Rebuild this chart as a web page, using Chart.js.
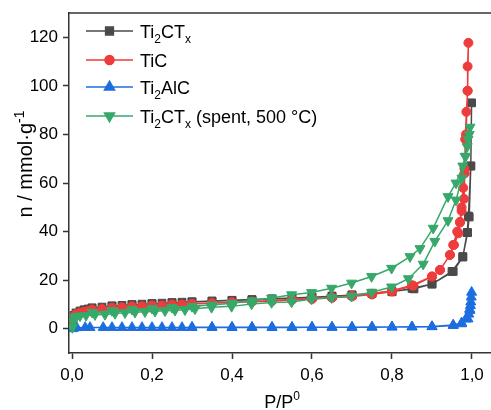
<!DOCTYPE html>
<html>
<head>
<meta charset="utf-8">
<script src="https://cdn.jsdelivr.net/npm/chart.js@4.4.0/dist/chart.umd.min.js"></script>
<style>
  html, body { margin: 0; padding: 0; background: #fff; }
</style>
</head>
<body>
<canvas id="iso" width="491" height="410"></canvas>
<script>
// N2 isotherms, adsorption branch then desorption branch for each sample
var xTicks = [0, 0.2, 0.4, 0.6, 0.8, 1.0]
var yTicks = [0, 20, 40, 60, 80, 100, 120]

var grayAdsP = [0.002, 0.005, 0.01, 0.02, 0.03, 0.04, 0.05, 0.075, 0.1, 0.125, 0.15, 0.175, 0.2, 0.225, 0.25, 0.275, 0.3, 0.35, 0.4, 0.45, 0.5, 0.55, 0.6, 0.65, 0.7, 0.75, 0.8, 0.855, 0.9, 0.95, 0.977, 0.989, 0.993, 0.997, 0.999]
var grayAdsN = [4.0, 5.5, 6.5, 7.3, 7.8, 8.1, 8.4, 8.9, 9.3, 9.6, 9.9, 10.1, 10.3, 10.5, 10.7, 10.9, 11.1, 11.4, 11.7, 12.0, 12.3, 12.6, 13.0, 13.4, 13.9, 14.6, 15.3, 16.4, 18.4, 23.6, 29.7, 39.6, 46, 67, 93]
var grayDesP = [0.997, 0.991, 0.988, 0.977, 0.953, 0.9, 0.85, 0.8, 0.75, 0.7, 0.65, 0.6, 0.55, 0.5, 0.45, 0.4, 0.35, 0.3, 0.25, 0.2, 0.15, 0.1, 0.05]
var grayDesN = [67, 46.4, 39.6, 29.5, 23.6, 18.4, 16.6, 15.2, 14.5, 13.9, 13.4, 12.9, 12.5, 12.2, 11.9, 11.6, 11.3, 11.0, 10.7, 10.3, 9.9, 9.4, 8.6]

var redAdsP = [0.002, 0.005, 0.01, 0.02, 0.03, 0.04, 0.05, 0.075, 0.1, 0.125, 0.15, 0.175, 0.2, 0.225, 0.25, 0.275, 0.3, 0.35, 0.4, 0.45, 0.5, 0.55, 0.6, 0.65, 0.7, 0.75, 0.8, 0.853, 0.9, 0.92, 0.945, 0.955, 0.966, 0.97, 0.974, 0.98, 0.982, 0.983, 0.986, 0.989, 0.989, 0.991]
var redAdsN = [3.5, 5.0, 6.0, 6.6, 7.0, 7.3, 7.6, 8.1, 8.5, 8.8, 9.0, 9.2, 9.4, 9.6, 9.8, 10.0, 10.2, 10.5, 10.8, 11.1, 11.4, 11.8, 12.2, 12.7, 13.3, 14.1, 15.3, 17.7, 21.5, 24.2, 30.4, 34.5, 39.3, 43.7, 48.5, 53.5, 64, 78, 89.3, 98, 108, 117.7]
var redDesP = [0.989, 0.985, 0.981, 0.978, 0.974, 0.97, 0.963, 0.953, 0.945, 0.92, 0.9, 0.85, 0.8, 0.75, 0.7, 0.65, 0.6, 0.55, 0.5, 0.45, 0.4, 0.35, 0.3, 0.25, 0.2, 0.15, 0.1, 0.05]
var redDesN = [98, 80, 66, 58, 50, 44, 40, 34.5, 30.4, 24.2, 21.5, 17.9, 15.6, 14.4, 13.6, 13.0, 12.5, 12.0, 11.6, 11.2, 10.9, 10.6, 10.3, 10.0, 9.6, 9.2, 8.7, 7.9]

var blueAdsP = [0.001, 0.005, 0.012, 0.033, 0.045, 0.078, 0.1, 0.125, 0.15, 0.175, 0.2, 0.225, 0.25, 0.275, 0.3, 0.35, 0.4, 0.45, 0.5, 0.55, 0.6, 0.65, 0.7, 0.75, 0.8, 0.85, 0.9, 0.953, 0.974, 0.99, 0.995, 0.999]
var blueAdsN = [0.0, 0.3, 0.4, 0.5, 0.5, 0.5, 0.5, 0.5, 0.5, 0.5, 0.5, 0.5, 0.5, 0.5, 0.5, 0.5, 0.5, 0.5, 0.5, 0.5, 0.6, 0.6, 0.6, 0.6, 0.7, 0.7, 0.8, 1.3, 2.0, 4.0, 7.5, 15.0]
var blueDesP = [0.998, 0.997, 0.996, 0.994, 0.992, 0.985, 0.974, 0.953, 0.9, 0.85, 0.8, 0.75, 0.7, 0.65, 0.6, 0.55, 0.5, 0.45, 0.4, 0.35, 0.3]
var blueDesN = [13, 11, 9.5, 8, 6, 4, 2.4, 1.5, 0.9, 0.8, 0.7, 0.7, 0.6, 0.6, 0.6, 0.6, 0.6, 0.6, 0.6, 0.6, 0.6]

var greenAdsP = [0.001, 0.003, 0.006, 0.01, 0.02, 0.035, 0.0575, 0.0825, 0.1075, 0.1325, 0.1575, 0.1825, 0.2075, 0.2325, 0.2575, 0.2825, 0.3075, 0.349, 0.399, 0.449, 0.499, 0.549, 0.599, 0.649, 0.699, 0.749, 0.799, 0.841, 0.878, 0.907, 0.94, 0.96, 0.975, 0.984, 0.99, 0.995]
var greenAdsN = [0.5, 3.0, 4.5, 5.0, 5.3, 5.5, 5.8, 5.9, 6.3, 6.6, 6.8, 7.0, 7.2, 7.4, 7.6, 7.8, 8.2, 8.8, 9.2, 10.2, 10.8, 11.0, 12.2, 12.8, 13.4, 15.0, 17.2, 20.6, 26.6, 36.0, 44.5, 53.0, 62.0, 71.0, 78.0, 83.0]
var greenDesP = [0.993, 0.988, 0.983, 0.977, 0.96, 0.94, 0.903, 0.87, 0.845, 0.799, 0.749, 0.699, 0.649, 0.599, 0.549, 0.499, 0.45, 0.4, 0.35, 0.3, 0.25, 0.2, 0.15, 0.1, 0.05]
var greenDesN = [80, 75, 71, 67, 60, 54.4, 41.4, 33, 29.7, 24.9, 21.5, 18.8, 16.7, 14.9, 14.0, 12.6, 11.5, 10.5, 9.8, 9.2, 8.8, 8.4, 8.0, 7.5, 6.8]

function pts(p, n) {
  return p.map((x, i) => ({x: x, y: n[i]}))
}

var series = [
  {label: [['Ti', 0], ['2', 1], ['CT', 0], ['x', 1]], color: '#4a4a4a', style: 'rect', rot: 0, r: 5.5, order: 4,
   data: pts(grayAdsP.concat(grayDesP), grayAdsN.concat(grayDesN))},
  {label: [['TiC', 0]], color: '#ee3b3b', style: 'circle', rot: 0, r: 4.5, order: 3,
   data: pts(redAdsP.concat(redDesP), redAdsN.concat(redDesN))},
  {label: [['Ti', 0], ['2', 1], ['AlC', 0]], color: '#1c6ee0', style: 'triangle', rot: 0, r: 5.8, order: 2,
   data: pts(blueAdsP.concat(blueDesP), blueAdsN.concat(blueDesN))},
  {label: [['Ti', 0], ['2', 1], ['CT', 0], ['x', 1], [' (spent, 500 °C)', 0]], color: '#36a86a', style: 'triangle', rot: 180, r: 5.8, order: 1,
   data: pts(greenAdsP.concat(greenDesP), greenAdsN.concat(greenDesN))}
]

var FONT = '"Liberation Sans", Arial, sans-serif'

function richText(ctx, parts, x, y, size, align) {
  // parts: [text, 0 normal | 1 subscript | 2 superscript]
  var w = 0
  parts.forEach(p => {
    ctx.font = (p[1] ? Math.round(size * 0.68) : size) + 'px ' + FONT
    w += ctx.measureText(p[0]).width
  })
  var cx = align === 'center' ? x - w / 2 : x
  parts.forEach(p => {
    ctx.font = (p[1] ? Math.round(size * 0.68) : size) + 'px ' + FONT
    var dy = p[1] === 1 ? size * 0.3 : (p[1] === 2 ? -size * 0.42 : 0)
    ctx.fillText(p[0], cx, y + dy)
    cx += ctx.measureText(p[0]).width
  })
}

var decor = {
  id: 'decor',
  afterDraw(chart) {
    var ctx = chart.ctx
    var a = chart.chartArea
    ctx.save()
    // frame top
    ctx.strokeStyle = '#333'
    ctx.lineWidth = 1.5
    ctx.beginPath()
    ctx.moveTo(a.left, a.top)
    ctx.lineTo(a.right, a.top)
    ctx.stroke()

    // legend
    var rows = [31, 60, 87, 116]
    series.forEach((s, i) => {
      var y = rows[i]
      ctx.strokeStyle = s.color
      ctx.fillStyle = s.color
      ctx.lineWidth = 1.5
      ctx.beginPath()
      ctx.moveTo(86, y)
      ctx.lineTo(133, y)
      ctx.stroke()
      Chart.helpers.drawPoint(ctx, {pointStyle: s.style, rotation: s.rot, radius: s.r, borderWidth: 1}, 109.5, y)
      ctx.fillStyle = '#000'
      ctx.textBaseline = 'alphabetic'
      richText(ctx, s.label, 140, y + 6.5, 18, 'left')
    })

    // axis titles
    ctx.fillStyle = '#000'
    richText(ctx, [['P/P', 0], ['0', 2]], 282, 408, 18, 'center')
    ctx.translate(32, 164)
    ctx.rotate(-Math.PI / 2)
    richText(ctx, [['n / mmol·g', 0], ['-1', 2]], 0, 0, 20, 'center')
    ctx.restore()
  }
}

var datasets = series.map(s => ({
  data: s.data,
  showLine: true,
  borderColor: s.color,
  backgroundColor: s.color,
  borderWidth: 1.5,
  pointStyle: s.style,
  rotation: s.rot,
  pointRadius: s.r,
  pointBorderWidth: 1,
  order: s.order
}))

var tickFont = {family: FONT, size: 17}

new Chart(document.getElementById('iso'), {
  type: 'scatter',
  data: {datasets: datasets},
  options: {
    responsive: false,
    animation: false,
    devicePixelRatio: 1,
    layout: {autoPadding: false, padding: {top: 13, right: 0, left: 0, bottom: 0}},
    plugins: {legend: {display: false}, tooltip: {enabled: false}},
    scales: {
      x: {
        type: 'linear', min: -0.0075, max: 1.0475,
        afterBuildTicks: s => { s.ticks = xTicks.map(v => ({value: v})) },
        afterFit: s => { s.height = 57; s.paddingLeft = 0; s.paddingRight = 0 },
        grid: {drawOnChartArea: false, drawTicks: true, tickLength: 6, tickColor: '#333', tickWidth: 1.5},
        border: {display: true, color: '#333', width: 1.5},
        ticks: {color: '#000', font: tickFont, padding: 6, maxRotation: 0, autoSkip: false,
                callback: v => v.toFixed(1).replace('.', ',')}
      },
      y: {
        type: 'linear', min: -10, max: 130,
        afterBuildTicks: s => { s.ticks = yTicks.map(v => ({value: v})) },
        afterFit: s => { s.width = 69; s.paddingTop = 0; s.paddingBottom = 0 },
        grid: {drawOnChartArea: false, drawTicks: true, tickLength: 6, tickColor: '#333', tickWidth: 1.5},
        border: {display: true, color: '#333', width: 1.5},
        ticks: {color: '#000', font: tickFont, padding: 5, autoSkip: false}
      }
    }
  },
  plugins: [decor]
})
</script>
</body>
</html>
